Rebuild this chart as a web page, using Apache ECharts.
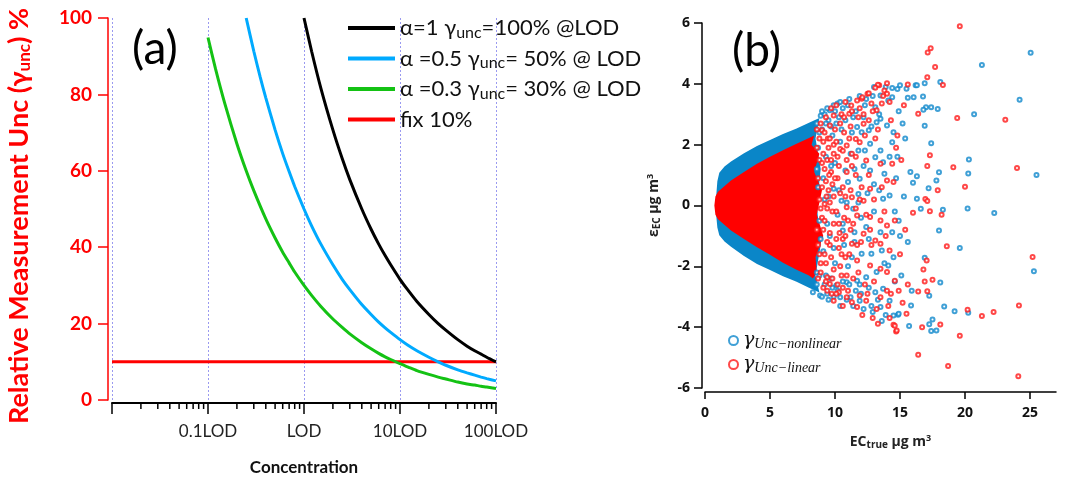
<!DOCTYPE html>
<html><head><meta charset="utf-8">
<script src="https://cdn.jsdelivr.net/npm/echarts@6/dist/echarts.min.js"></script>
<style>html,body{margin:0;padding:0;background:#fff}#c{width:1065px;height:481px}</style>
</head><body><div id="c"></div>
<script>
// ---------- Panel (a) data ----------
const decadeLabels = ['', '0.1LOD', 'LOD', '10LOD', '100LOD'];
const minorTickConc = [0.02,0.03,0.04,0.05,0.06,0.07,0.08,0.09,0.2,0.3,0.4,0.5,0.6,0.7,0.8,0.9,2,3,4,5,6,7,8,9,20,30,40,50,60,70,80,90];
const blackConc = [1,1.2,1.5,2,2.5,3,4,5,6,7,8,10,12,15,20,25,30,40,50,60,70,80,100];
const blackUnc  = [100,91.3,81.6,70.7,63.2,57.7,50,44.7,40.8,37.8,35.4,31.6,28.9,25.8,22.4,20,18.3,15.8,14.1,12.9,12.0,11.2,10];
const blueConc = [0.25,0.3,0.35,0.4,0.5,0.6,0.7,0.8,1,1.2,1.5,2,2.5,3,4,5,6,7,8,10,12,15,20,25,30,40,50,60,70,80,100];
const blueUnc  = [100,91.3,84.5,79.1,70.7,64.5,59.8,55.9,50,45.6,40.8,35.4,31.6,28.9,25,22.4,20.4,18.9,17.7,15.8,14.4,12.9,11.2,10,9.1,7.9,7.1,6.5,6.0,5.6,5.0];
const greenConc = [0.1,0.12,0.15,0.2,0.25,0.3,0.4,0.5,0.6,0.7,0.8,1,1.2,1.5,2,2.5,3,4,5,6,7,8,10,12,15,20,25,30,40,50,60,70,80,100];
const greenUnc  = [94.9,86.6,77.5,67.1,60,54.8,47.4,42.4,38.7,35.9,33.5,30,27.4,24.5,21.2,19,17.3,15,13.4,12.2,11.3,10.6,9.5,8.7,7.7,6.7,6,5.5,4.7,4.2,3.9,3.6,3.4,3.0];
const redConc = [0.01, 100];
const redUnc  = [10, 10];

// ---------- Panel (b) data ----------
const xTicksB = [0,5,10,15,20,25];
const blueUpper = [[0.8,0],[0.88,0.4],[0.95,0.8],[1.1,1.08],[1.5,1.28],[2,1.45],[3,1.72],[4,1.96],[5,2.15],[6,2.35],[7,2.52],[8,2.72],[8.8,2.88]];
const blueLower = [[0.8,0],[0.88,-0.4],[0.95,-0.72],[1.1,-0.98],[1.5,-1.18],[2,-1.36],[3,-1.66],[4,-1.92],[5,-2.12],[6,-2.33],[7,-2.5],[8,-2.7],[8.8,-2.86]];
const blueRight = [[8.5,2.2],[8.9,1.2],[8.6,0],[8.9,-1.3],[8.5,-2.3]];
const redUpper = [[0.72,0],[0.8,0.3],[1,0.45],[2,0.82],[3,1.1],[4,1.37],[5,1.6],[6,1.82],[7,2.02],[8,2.22],[8.4,2.3]];
const redLower = [[0.72,0],[0.8,-0.3],[1,-0.45],[2,-0.82],[3,-1.1],[4,-1.37],[5,-1.62],[6,-1.88],[7,-2.1],[8,-2.3],[8.3,-2.4]];
const redRight = [[8.2,2.0],[8.8,1.7],[8.4,1.1],[9.0,0.5],[8.6,-0.3],[9.1,-1.0],[8.5,-1.7],[8.6,-2.2]];
const blueScatter = [
[13.5,3.62],[13.1,3.23],[13.5,2.85],[14.0,2.63],[13.2,2.74],[12.6,2.47],[12.05,2.41],[11.7,2.58],[12.7,2.03],[13.5,1.81],[12.3,1.81],[11.8,1.81],[14.4,2.08],[14.5,2.41],[13.1,1.59],[13.7,1.42],[11.5,1.2],[10.8,1.15],[12.7,1.15],[13.8,1.04],[11.9,0.88],[11.0,0.77],[9.9,0.55],[14.2,0.33],[13.7,0.22],[11.8,0.38],[11.4,-0.11],[10.5,0.16],[9.6,3.13],
[14.8,3.83],[14.4,3.86],[15.5,3.84],[16.2,3.95],[14.4,3.56],[14.1,3.45],[15.6,3.54],
[25.05,5.02],[21.3,4.62],[18.1,4.06],[16.9,4.02],[24.2,3.48],[20.7,3.0],[17.4,3.23],[17.0,3.23],[17.9,3.17],[16.8,3.15],[16.05,3.56],[16.77,3.58],[16.3,3.95],[16.9,2.62],[17.4,2.05],[20.3,1.51],[25.5,1.0],[20.25,1.05],[18.0,1.09],[16.3,0.96],[16.0,0.75],[17.8,0.82],[17.2,0.57],[16.3,0.22],[16.6,-0.11],[18.3,-0.14],[20.2,-0.1],[22.25,-0.25],[18.0,-0.82],[19.6,-1.4],[25.3,-2.16],[16.9,-1.72],[18.1,-2.53],[17.25,-2.97],[18.4,-3.32],[19.2,-3.48],[20.25,-3.53],[17.5,-3.75],[17.25,-3.9],[17.4,-4.13],[17.8,-4.11],[15.7,-3.96],[15.85,-3.29],[14.85,-3.59],[14.5,-3.62],
[10.6,-0.82],[11.5,-0.88],[12.4,-0.71],[13.5,-0.88],[14.4,-0.88],[13.6,-1.48],[12.8,-1.59],[12.05,-1.59],[11.3,-1.7],[14.5,-1.7],[14.1,-1.97],[13.2,-2.19],[12.4,-2.36],[11.7,-2.47],[10.9,-2.52],[10.1,-2.63],[9.4,-2.9],[8.85,-2.96],[8.3,-2.85],[13.7,-2.74],[13.1,-2.85],[14.2,-3.13],[13.5,-3.34],[14.9,-3.56],[11.9,-3.13],[11.2,-3.02],[10.4,-3.02],
[8.9,2.95],[9.2,3.0],[9.5,2.8],[10.0,3.1],[10.3,2.9],[10.6,3.2],[11.0,3.3],[10.2,3.35],[9.0,2.5],[9.8,2.3],[10.4,2.1],[8.7,1.9],[9.3,1.6],[10.0,1.4],[8.6,1.2],[9.1,0.9],[9.5,0.3],[10.2,-0.3],[8.8,-0.5],[9.6,-1.0],[9.1,-1.5],[10.0,-1.9],[8.6,-2.2],[9.3,-2.3],[9.8,-2.7],[10.7,-1.3],[11.0,-2.0],[12.0,-0.4],[12.5,0.4],[13.0,0.7],[14.8,1.6],[15.2,2.7],[15.4,2.2],[14.9,3.1],[15.8,1.1],[15.3,0.3],[14.9,-0.5],[15.6,-1.2],[15.1,-2.3],[15.9,-2.8],[12.9,3.6],[12.3,3.3],[11.4,2.9],[13.9,3.9],[15.0,3.95],[12.0,-2.9],[12.8,-3.3],[13.9,-3.6],[14.6,-2.5],[14.6,-0.2],
[8.6,2.7],[8.8,2.4],[9.0,3.1],[9.3,2.7],[9.4,3.2],[9.7,2.6],[9.9,3.3],[10.1,2.7],[10.4,3.4],[10.5,2.5],[10.8,2.8],[11.1,3.5],[11.3,2.4],[11.6,3.1],[11.9,3.6],[12.2,2.9],[12.4,3.5],[12.8,2.6],[13.0,3.9],[13.4,3.0],
[8.6,-2.6],[8.8,-2.3],[9.0,-3.0],[9.2,-2.6],[9.5,-3.1],[9.7,-2.4],[9.9,-3.0],[10.2,-2.8],[10.4,-3.3],[10.6,-2.5],[10.9,-3.1],[11.1,-2.6],[11.4,-3.3],[11.6,-2.8],[11.9,-2.6],[12.2,-3.4],[12.6,-2.7],[12.9,-3.5],[13.3,-3.1],[13.6,-3.8],
[8.7,0.6],[8.9,-1.1],[9.2,0.2],[9.4,-0.6],[9.7,1.3],[9.9,-1.4],[10.3,0.5],[10.6,-0.6],[10.9,0.1],[11.2,1.7],[11.5,-1.2],[11.8,0.1],[12.2,1.3],[12.6,-1.1],[13.0,-0.2],[13.4,0.5],[13.8,-1.9],[14.2,1.6],[14.7,0.9],[15.0,-1.0]
];
const redScatter = [
[13.4,3.95],[14.0,4.02],[13.8,3.78],[12.5,3.67],[12.05,3.51],[11.7,3.45],[11.25,3.29],[11.1,3.02],[9.9,2.96],[9.6,2.63],[9.0,2.47],[11.8,2.9],[12.2,2.69],[12.6,2.8],[13.2,3.13],[13.6,3.35],[14.2,3.4],[14.0,3.67],[12.8,3.35],[11.6,2.19],[11.9,2.08],[10.9,1.97],[10.4,1.86],[11.3,1.7],[12.4,1.48],[13.5,1.37],[14.4,1.37],[14.0,0.82],[14.5,0.77],[12.7,0.55],[12.05,0.6],[11.3,0.27],[10.9,-0.06],[12.2,0.16],[9.2,0.05],
[13.3,3.97],[15.6,3.98],[13.1,3.87],[12.6,3.69],[12.1,3.56],
[19.6,5.89],[17.36,5.17],[17.13,5.03],[17.7,4.55],[17.1,4.22],[18.3,3.96],[19.4,2.88],[23.1,2.82],[16.4,3.02],[17.3,1.65],[17.1,1.3],[19.1,1.26],[24.0,1.23],[20.0,0.62],[17.9,0.5],[16.95,0.21],[17.1,0.15],[17.3,-0.19],[18.2,-0.3],[16.0,-0.24],[18.6,-1.34],[25.2,-1.69],[17.05,-1.81],[16.8,-2.1],[17.5,-2.44],[16.9,-2.5],[16.4,-2.83],[17.1,-2.82],[20.2,-3.43],[21.3,-3.63],[22.2,-3.5],[24.15,-3.29],[18.1,-3.91],[16.7,-4.0],[19.6,-4.28],[16.4,-4.91],[18.7,-5.28],[24.1,-5.61],[14.7,-4.14],[14.5,-3.92],[15.5,-3.56],
[11.0,-0.49],[11.7,-0.33],[12.7,-0.38],[13.5,-0.49],[14.0,-0.66],[14.6,-0.49],[12.2,-0.93],[13.1,-1.15],[13.5,-1.26],[14.2,-1.48],[11.3,-1.26],[10.8,-1.7],[11.7,-1.81],[12.7,-1.97],[13.5,-2.08],[14.0,-2.19],[14.6,-2.47],[14.9,-2.8],[14.0,-2.8],[13.5,-3.02],[13.2,-3.4],[12.4,-3.13],[11.9,-2.96],[11.7,-3.34],[11.3,-3.18],[10.9,-3.02],[10.3,-2.85],[9.9,-3.13],[13.3,-3.89],[14.6,-3.95],[14.75,-4.11],[9.6,-2.58],[9.4,-2.36],
[8.6,2.5],[8.9,2.7],[9.3,2.9],[9.7,3.2],[10.1,3.3],[10.5,3.0],[10.8,3.4],[9.1,2.1],[9.5,1.9],[9.9,1.7],[8.8,1.5],[9.2,1.2],[9.7,1.1],[10.2,0.9],[10.6,0.6],[9.0,0.6],[9.5,0.5],[8.9,-0.1],[9.8,-0.2],[10.3,-0.6],[9.1,-0.8],[9.6,-1.3],[10.1,-1.1],[8.8,-1.6],[9.3,-1.9],[9.9,-2.1],[10.5,-2.3],[8.7,-2.4],[9.1,-2.7],[10.6,-3.3],[10.0,2.5],[10.7,2.4],[11.2,2.6],[10.3,1.3],[10.9,1.1],[11.6,1.0],[11.2,-0.8],[10.5,-1.6],[12.3,-2.6],[13.0,-2.5],[12.0,-1.2],[13.0,0.2],[13.8,-0.2],[13.1,2.2],[14.3,2.8],[14.8,2.3],[15.1,1.5],[15.4,-0.8],[15.0,-1.6],[15.6,-2.6],[12.9,-3.7],[12.1,-3.6],[14.2,-3.7],[15.2,-3.2],[15.3,3.3],
[8.6,1.9],[8.7,0.9],[8.8,0.2],[8.6,-0.8],[8.7,-1.3],[8.9,-1.9],[8.8,2.2],[9.0,1.4],[8.9,-2.2],[9.0,-0.4],
[9.2,2.4],[9.3,0.8],[9.4,-0.1],[9.2,-0.5],[9.4,-1.2],[9.3,-2.5],[9.1,1.7],[9.4,1.5],[9.2,-1.6],[9.45,2.2],[9.4,-2.8],[9.35,0.3],
[9.6,2.2],[9.7,1.5],[9.8,0.7],[9.6,0.1],[9.9,-0.6],[9.7,-1.7],[9.8,-2.4],[9.6,-0.9],[9.9,2.0],[9.75,-2.9],[9.55,1.0],[9.9,0.3],
[10.1,2.1],[10.2,1.6],[10.4,0.4],[10.1,-0.2],[10.3,-1.4],[10.4,-2.0],[10.2,-2.6],[10.0,0.9],[10.4,2.7],[10.1,-2.9],[10.35,-0.9],
[10.6,1.8],[10.8,0.3],[10.7,-0.4],[10.6,-1.1],[10.9,-2.3],[10.7,2.9],[10.9,1.5],[10.6,-2.7],[10.8,-1.0],
[11.1,2.2],[11.3,1.3],[11.2,0.5],[11.4,-0.6],[11.1,-1.6],[11.4,-2.4],[11.3,3.1],[11.0,-2.8],
[11.6,1.6],[11.9,0.2],[11.7,-1.3],[11.8,-2.2],[11.9,3.2],[11.6,-0.1],
[12.3,2.3],[12.6,1.0],[12.4,-0.3],[12.8,-1.3],[12.5,-2.9],[12.9,3.1],[12.2,3.0],[12.7,-0.8],
[13.3,2.5],[13.6,0.6],[13.9,-1.0],[14.3,-2.9],[14.7,1.9],[14.1,-3.3],[13.7,3.6]
];

const BLUE_B = '#1088cc';
const RED_B = '#ff1a1a';
const zip = (a, b) => a.map((v, i) => [v, b[i]]);

function polygonRenderer(upper, right, lower, color) {
  return function (params, api) {
    const pts = [];
    upper.forEach(p => pts.push(api.coord(p)));
    right.forEach(p => pts.push(api.coord(p)));
    lower.slice().reverse().forEach(p => pts.push(api.coord(p)));
    return { type: 'polygon', shape: { points: pts }, style: { fill: color } };
  };
}

const legendNamesA = {
  'a1': 'α=1 γ{sub|unc}=100% @LOD',
  'a05': 'α =0.5 γ{sub|unc}= 50% @ LOD',
  'a03': 'α =0.3 γ{sub|unc}= 30% @ LOD',
  'fix': 'fix 10%'
};
const legendNamesB = {
  'nonlin': '{g|γ}{s|Unc−nonlinear}',
  'lin': '{g|γ}{s|Unc−linear}'
};

const chart = echarts.init(document.getElementById('c'), null, { renderer: 'canvas' });
const option = {
  backgroundColor: '#fff',
  animation: false,
  grid: [
    { left: 112, right: 569, top: 18, bottom: 81, outerBoundsMode: 'none', containLabel: false },
    { left: 705, right: 9, top: 23, bottom: 93, outerBoundsMode: 'none', containLabel: false }
  ],
  xAxis: [
    {
      gridIndex: 0, type: 'log', logBase: 10, min: 0.01, max: 100, offset: 3,
      axisLine: { onZero: false, lineStyle: { color: '#000', width: 2 } },
      axisTick: { show: true, length: 11, lineStyle: { color: '#000', width: 1.5 } },
      axisLabel: {
        margin: 20, fontSize: 17, color: '#222', fontFamily: 'Lato',
        formatter: v => decadeLabels[Math.round(Math.log10(v)) + 2]
      },
      splitLine: { show: true, lineStyle: { color: '#9a9af0', type: [2, 2], width: 1 } },
      name: 'Concentration', nameLocation: 'middle', nameGap: 56,
      nameTextStyle: { fontSize: 17, fontWeight: 'bold', color: '#111', fontFamily: 'Lato' }
    },
    {
      gridIndex: 1, type: 'value', min: 0, max: 27, offset: 4,
      axisLine: { onZero: false, lineStyle: { color: '#000', width: 1.5 } },
      axisTick: { show: true, length: 7, customValues: xTicksB, lineStyle: { color: '#000', width: 1.5 } },
      axisLabel: { customValues: xTicksB, margin: 14, fontSize: 14, fontWeight: 'bold', color: '#111', fontFamily: 'Open Sans' },
      splitLine: { show: false },
      name: 'EC{s|true} μg m{p|3}', nameLocation: 'middle', nameGap: 42,
      nameTextStyle: {
        fontSize: 14, fontWeight: 'bold', color: '#222', fontFamily: 'Open Sans', padding: [0, 0, 0, 20],
        rich: { s: { fontSize: 10, fontWeight: 'bold', fontFamily: 'Open Sans', color: '#222', padding: [6, 0, 0, 0] },
                p: { fontSize: 9, fontWeight: 'bold', fontFamily: 'Open Sans', color: '#222', padding: [0, 0, 7, 0] } }
      }
    }
  ],
  yAxis: [
    {
      gridIndex: 0, type: 'value', min: 0, max: 100, interval: 20, offset: 4,
      axisLine: { show: true, onZero: false, lineStyle: { color: '#ff0000', width: 1.5 } },
      axisTick: { show: true, length: 10, lineStyle: { color: '#ff0000', width: 1.5 } },
      axisLabel: { margin: 16, fontSize: 19, fontWeight: 'bold', color: '#ff0000', fontFamily: 'Lato' },
      splitLine: { show: false },
      name: 'Relative Measurement Unc (γ{sub|unc}) %', nameLocation: 'middle', nameGap: 75, nameRotate: 90,
      nameTextStyle: {
        fontSize: 27, fontWeight: 'bold', color: '#ff0000', fontFamily: 'Lato', padding: [0, 14, 0, 0],
        rich: { sub: { fontSize: 17, fontWeight: 'bold', color: '#ff0000', fontFamily: 'Lato', padding: [11, 0, 0, 0] } }
      }
    },
    {
      gridIndex: 1, type: 'value', min: -6, max: 6, interval: 2, offset: 3,
      axisLine: { show: true, onZero: false, lineStyle: { color: '#000', width: 1.5 } },
      axisTick: { show: true, length: 8, lineStyle: { color: '#000', width: 1.5 } },
      axisLabel: { margin: 12, fontSize: 14, fontWeight: 'bold', color: '#111', fontFamily: 'Open Sans' },
      splitLine: { show: false },
      name: 'ε{s|EC} μg m{p|3}', nameLocation: 'middle', nameGap: 40, nameRotate: 90,
      nameTextStyle: {
        fontSize: 14, fontWeight: 'bold', color: '#222', fontFamily: 'Open Sans', padding: [0, 0, 0, 0],
        rich: { s: { fontSize: 10, fontWeight: 'bold', fontFamily: 'Open Sans', color: '#222', padding: [6, 0, 0, 0] },
                p: { fontSize: 9, fontWeight: 'bold', fontFamily: 'Open Sans', color: '#222', padding: [0, 0, 7, 0] } }
      }
    }
  ],
  legend: [
    {
      data: ['a1', 'a05', 'a03', 'fix'], orient: 'vertical', left: 343, top: 12,
      icon: 'rect', itemWidth: 47, itemHeight: 4, itemGap: 7,
      formatter: n => legendNamesA[n],
      textStyle: {
        fontSize: 22, color: '#111', fontFamily: 'Lato', padding: [0, 0, 0, 0],
        rich: { sub: { fontSize: 16, color: '#111', fontFamily: 'Lato', padding: [9, 0, 0, 0] } }
      }
    },
    {
      data: ['nonlin', 'lin'], orient: 'vertical', left: 723, top: 326,
      itemWidth: 9, itemHeight: 9, itemGap: 4,
      formatter: n => legendNamesB[n],
      textStyle: {
        fontSize: 16, color: '#111',
        rich: {
          g: { fontSize: 19, fontStyle: 'italic', fontFamily: 'DejaVu Serif', color: '#111' },
          s: { fontSize: 14, fontStyle: 'italic', fontFamily: 'Liberation Serif', color: '#111', padding: [7, 0, 0, 0] }
        }
      }
    }
  ],
  graphic: [
    { type: 'text', left: 132, top: 26, style: { text: '(a)', fontSize: 46, fontFamily: 'Lato', fill: '#000' } },
    { type: 'text', left: 732, top: 28, style: { text: '(b)', fontSize: 46, fontFamily: 'Lato', fill: '#000' } }
  ],
  series: [
    {
      type: 'custom', xAxisIndex: 0, yAxisIndex: 0, silent: true, clip: false,
      data: minorTickConc.map(v => [v, 0]),
      renderItem: function (params, api) {
        const p = api.coord([api.value(0), 0]);
        return { type: 'line', shape: { x1: p[0], y1: p[1] + 3, x2: p[0], y2: p[1] + 9 }, style: { stroke: '#000', lineWidth: 1.5 } };
      }
    },
    { name: 'fix', type: 'line', xAxisIndex: 0, yAxisIndex: 0, data: zip(redConc, redUnc), showSymbol: false, lineStyle: { color: '#ff0000', width: 3 }, itemStyle: { color: '#ff0000' }, z: 3 },
    { name: 'a03', type: 'line', xAxisIndex: 0, yAxisIndex: 0, data: zip(greenConc, greenUnc), showSymbol: false, smooth: 0.2, lineStyle: { color: '#14c214', width: 3 }, itemStyle: { color: '#14c214' }, z: 4 },
    { name: 'a05', type: 'line', xAxisIndex: 0, yAxisIndex: 0, data: zip(blueConc, blueUnc), showSymbol: false, smooth: 0.2, lineStyle: { color: '#00aaff', width: 3 }, itemStyle: { color: '#00aaff' }, z: 4 },
    { name: 'a1', type: 'line', xAxisIndex: 0, yAxisIndex: 0, data: zip(blackConc, blackUnc), showSymbol: false, smooth: 0.2, lineStyle: { color: '#000', width: 3 }, itemStyle: { color: '#000' }, z: 4 },

    { type: 'custom', xAxisIndex: 1, yAxisIndex: 1, silent: true, data: [[1, 0]], renderItem: polygonRenderer(blueUpper, blueRight, blueLower, '#0a86c8'), z: 2 },
    { type: 'custom', xAxisIndex: 1, yAxisIndex: 1, silent: true, data: [[1, 0]], renderItem: polygonRenderer(redUpper, redRight, redLower, '#ff0000'), z: 3 },
    { name: 'nonlin', type: 'scatter', xAxisIndex: 1, yAxisIndex: 1, data: blueScatter, symbol: 'emptyCircle', symbolSize: 4, itemStyle: { color: BLUE_B, borderColor: BLUE_B, borderWidth: 1.3 }, z: 4 },
    { name: 'lin', type: 'scatter', xAxisIndex: 1, yAxisIndex: 1, data: redScatter, symbol: 'emptyCircle', symbolSize: 4, itemStyle: { color: RED_B, borderColor: RED_B, borderWidth: 1.3 }, z: 5 }
  ]
};
chart.setOption(option);
</script>
</body></html>
